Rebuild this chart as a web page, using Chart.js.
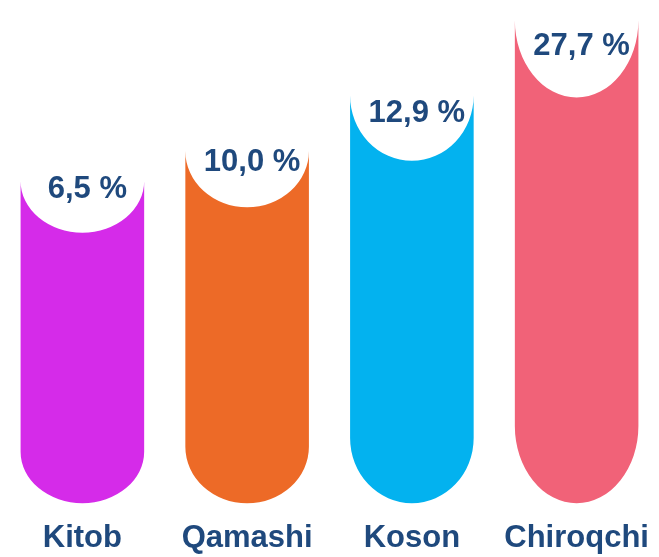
<!DOCTYPE html>
<html>
<head>
<meta charset="utf-8">
<title>Tumanlar</title>
<script src="https://cdn.jsdelivr.net/npm/chart.js@4.4.0/dist/chart.umd.min.js"></script>
<style>
    html, body { margin: 0; padding: 0; background: #ffffff; }
    #wrap { width: 659px; height: 557px; position: relative; }
</style>
</head>
<body>
<div id="wrap"><canvas id="districtChart"></canvas></div>
<script>
// Districts and their shares (%)
const districts = ['Kitob', 'Qamashi', 'Koson', 'Chiroqchi'];
const shares = [6.5, 10.0, 12.9, 27.7];
// Column heights as drawn in the infographic (not proportional to the shares)
const columnHeights = [64, 70, 81, 96];
const barColors = ['#D52BE9', '#ED6A27', '#03B2EF', '#F16278'];

const TEXT_COLOR = '#1F497D';
const FONT_FAMILY = '"Liberation Sans", Arial, sans-serif';

function formatShare(v) {
    return v.toFixed(1).replace('.', ',') + ' %';
}

// Draws each bar as a column with a rounded bottom and a scooped-out top
const pillBars = {
    id: 'pillBars',
    beforeDatasetDraw: function(chart, args) {
        const ctx = chart.ctx;
        args.meta.data.forEach((bar, i) => {
            const p = bar.getProps(['x', 'y', 'base', 'width'], true);
            const h = p.base - p.y;
            const half = p.width / 2;
            const rTop = h * 0.16;
            const rBottom = h * 0.16;

            ctx.save();
            ctx.fillStyle = barColors[i];
            ctx.beginPath();
            ctx.moveTo(p.x - half, p.y);
            ctx.lineTo(p.x - half, p.base - rBottom);
            ctx.ellipse(p.x, p.base - rBottom, half, rBottom, 0, Math.PI, 0, true);
            ctx.lineTo(p.x + half, p.y);
            ctx.ellipse(p.x, p.y, half, rTop, 0, 0, Math.PI, false);
            ctx.closePath();
            ctx.fill();
            ctx.restore();
        });
        return false;
    },
    afterDatasetsDraw: function(chart) {
        const ctx = chart.ctx;
        const meta = chart.getDatasetMeta(0);
        meta.data.forEach((bar, i) => {
            const p = bar.getProps(['x', 'y', 'base'], true);
            const rTop = (p.base - p.y) * 0.16;
            ctx.save();
            ctx.fillStyle = TEXT_COLOR;
            ctx.font = 'bold 31px ' + FONT_FAMILY;
            ctx.textAlign = 'center';
            ctx.textBaseline = 'middle';
            // label sits in the upper part of the scoop
            ctx.fillText(formatShare(shares[i]), p.x + 5, p.y + rTop * 0.7 - 28);
            ctx.restore();
        });
    }
};

const ctx = document.getElementById('districtChart').getContext('2d');
const chart = new Chart(ctx, {
    type: 'bar',
    data: {
        labels: districts,
        datasets: [{
            label: 'Ulush',
            data: columnHeights,
            backgroundColor: barColors,
            categoryPercentage: 1.0,
            barPercentage: 0.75
        }]
    },
    options: {
        responsive: true,
        maintainAspectRatio: false,
        animation: false,
        layout: { padding: 0 },
        scales: {
            x: {
                grid: { display: false, drawTicks: false },
                border: { display: false },
                ticks: {
                    color: TEXT_COLOR,
                    padding: 0,
                    maxRotation: 0,
                    autoSkip: false,
                    font: { family: FONT_FAMILY, size: 31, weight: 'bold' }
                }
            },
            y: {
                display: false,
                min: -3.3,
                max: 100
            }
        },
        plugins: {
            legend: { display: false },
            tooltip: {
                callbacks: {
                    label: function(context) {
                        return formatShare(shares[context.dataIndex]);
                    }
                }
            }
        }
    },
    plugins: [pillBars]
});
</script>
</body>
</html>
